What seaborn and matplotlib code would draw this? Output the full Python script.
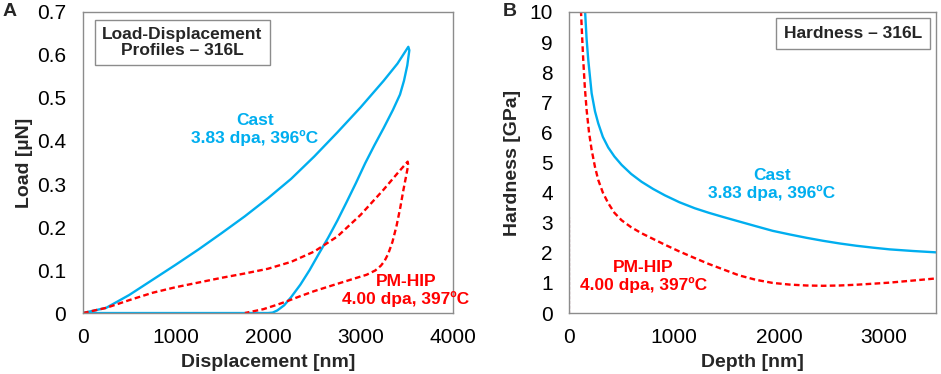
import numpy as np
import pandas as pd
import matplotlib
matplotlib.use("Agg")
import matplotlib.pyplot as plt
import seaborn as sns

# ---------------- data: panel A (load-displacement) ----------------
cast_disp = [0, 250, 500, 750, 1000, 1250, 1500, 1750, 2000, 2250, 2500, 2750, 3000, 3250, 3400, 3517,
             3528, 3506, 3470, 3427, 3350, 3250, 3150, 3050, 2950, 2850, 2750, 2650, 2550, 2450,
             2350, 2250, 2175, 2100, 2050, 2000, 1500, 1000, 500, 0]
cast_load = [0, 0.012, 0.042, 0.077, 0.112, 0.148, 0.186, 0.225, 0.267, 0.312, 0.364, 0.42, 0.478, 0.54,
             0.58, 0.619,
             0.611, 0.576, 0.54, 0.508, 0.472, 0.43, 0.39, 0.348, 0.302, 0.258, 0.215, 0.175, 0.138, 0.1,
             0.066, 0.037, 0.018, 0.006, 0.001, 0, 0, 0, 0, 0]
hip_disp = [0, 250, 500, 750, 1000, 1250, 1500, 1750, 2000, 2250, 2500, 2750, 3000, 3250, 3400, 3510,
            3516, 3490, 3462, 3430, 3390, 3345, 3300, 3260, 3220, 3160, 3066, 2900, 2706, 2500,
            2346, 2200, 2094, 1950, 1750]
hip_load = [0, 0.012, 0.03, 0.047, 0.06, 0.071, 0.082, 0.092, 0.103, 0.119, 0.143, 0.178, 0.228, 0.287,
            0.325, 0.352,
            0.344, 0.315, 0.284, 0.245, 0.203, 0.165, 0.138, 0.121, 0.11, 0.099, 0.089, 0.078, 0.065, 0.051,
            0.039, 0.027, 0.019, 0.009, 0]

# ---------------- data: panel B (hardness vs depth) ----------------
cast_depth = [150, 165, 181, 213, 245, 276, 320, 371, 430, 499, 590, 689, 800, 911, 1050, 1197,
              1330, 1467, 1620, 1784, 1940, 2102, 2260, 2419, 2580, 2737, 2900, 3054, 3280, 3500]
cast_hard = [10.05, 9.1, 8.4, 7.3, 6.7, 6.3, 5.85, 5.5, 5.2, 4.92, 4.62, 4.36, 4.12, 3.91, 3.68, 3.48,
             3.33, 3.19, 3.04, 2.88, 2.73, 2.61, 2.5, 2.4, 2.31, 2.235, 2.17, 2.115, 2.06, 2.015]
hip_depth = [111, 122, 133, 148, 165, 188, 213, 245, 276, 320, 371, 430, 499, 590, 689, 800, 911,
             1050, 1180, 1330, 1467, 1620, 1784, 1940, 2102, 2260, 2419, 2580, 2737, 2900, 3054,
             3280, 3500]
hip_hard = [10.05, 9.2, 8.4, 7.5, 6.75, 6.0, 5.42, 4.85, 4.42, 4.0, 3.65, 3.33, 3.08, 2.85, 2.65, 2.46, 2.27,
            2.045, 1.85, 1.63, 1.45, 1.25, 1.1, 1.0, 0.945, 0.915, 0.905, 0.915, 0.94, 0.975, 1.01,
            1.08, 1.15]
cast_edge_depth = [0, 0]
cast_edge_hard = [0, 10]
hip_edge_depth = [0, 0]
hip_edge_hard = [0, 3.2]

xticks_a = [0, 1000, 2000, 3000, 4000]
yticks_a = [0, 0.1, 0.2, 0.3, 0.4, 0.5, 0.6, 0.7]
xticks_b = [0, 1000, 2000, 3000]
yticks_b = list(range(0, 11))

BLUE = "#00AEEF"
RED = "#FF0000"
DASH = (0, (2.4, 1.4))

sns.set_style("white")
plt.rcParams["font.family"] = ["Liberation Sans", "DejaVu Sans"]

fig = plt.figure(figsize=(9.41, 3.74), dpi=100)
axA = fig.add_axes([0.0882, 0.163, 0.3932, 0.805])
axB = fig.add_axes([0.6050, 0.163, 0.390, 0.805])

dfA_c = pd.DataFrame({"x": cast_disp, "y": cast_load})
dfA_h = pd.DataFrame({"x": hip_disp, "y": hip_load})
sns.lineplot(data=dfA_c, x="x", y="y", sort=False, estimator=None, ax=axA,
             color=BLUE, lw=1.7)
sns.lineplot(data=dfA_h, x="x", y="y", sort=False, estimator=None, ax=axA,
             color=RED, lw=1.7, linestyle=DASH)

dfB_c = pd.DataFrame({"x": cast_depth, "y": cast_hard})
dfB_h = pd.DataFrame({"x": hip_depth, "y": hip_hard})
sns.lineplot(data=pd.DataFrame({"x": cast_edge_depth, "y": cast_edge_hard}), x="x", y="y",
             sort=False, estimator=None, ax=axB, color=BLUE, lw=1.4)
sns.lineplot(data=pd.DataFrame({"x": hip_edge_depth, "y": hip_edge_hard}), x="x", y="y",
             sort=False, estimator=None, ax=axB, color="#b07080", lw=0.9, linestyle=DASH)
sns.lineplot(data=dfB_c, x="x", y="y", sort=False, estimator=None, ax=axB,
             color=BLUE, lw=1.7)
sns.lineplot(data=dfB_h, x="x", y="y", sort=False, estimator=None, ax=axB,
             color=RED, lw=1.7, linestyle=DASH)

for ax in (axA, axB):
    for s in ax.spines.values():
        s.set_color("#8c8c8c")
        s.set_linewidth(1.0)
    ax.tick_params(axis="both", length=0, labelsize=15, colors="black")
    ax.tick_params(axis="x", pad=11)
    ax.tick_params(axis="y", pad=12)

axA.set_xlim(0, 4000)
axA.set_ylim(0, 0.7)
axA.set_xticks(xticks_a)
axA.set_yticks(yticks_a)
axA.set_yticklabels([f"{v:g}" for v in yticks_a])
axA.set_xlabel("Displacement [nm]", fontsize=14, fontweight="bold", labelpad=5)
axA.set_ylabel("Load [µN]", fontsize=14, fontweight="bold", labelpad=3)

axB.set_xlim(0, 3500)
axB.set_ylim(0, 10)
axB.set_xticks(xticks_b)
axB.set_yticks(yticks_b)
axB.set_xlabel("Depth [nm]", fontsize=14, fontweight="bold", labelpad=5)
axB.set_ylabel("Hardness [GPa]", fontsize=14, fontweight="bold", labelpad=6)

axA.text(1075, 0.629, "Load-Displacement\nProfiles – 316L", ha="center", va="center",
         fontsize=12.5, fontweight="bold", linespacing=1.15,
         bbox=dict(boxstyle="square,pad=0.4", fc="white", ec="#8c8c8c", lw=1.0))
axB.text(2707, 9.29, "Hardness – 316L", ha="center", va="center",
         fontsize=12.5, fontweight="bold",
         bbox=dict(boxstyle="square,pad=0.45", fc="white", ec="#8c8c8c", lw=1.0))

axA.text(1859, 0.426, "Cast\n3.83 dpa, 396ºC", ha="center", va="center", color=BLUE,
         fontsize=12.5, fontweight="bold", linespacing=1.15)
axA.text(3492, 0.053, "PM-HIP\n4.00 dpa, 397ºC", ha="center", va="center", color=RED,
         fontsize=12.5, fontweight="bold", linespacing=1.15, clip_on=False)
axB.text(1933, 4.28, "Cast\n3.83 dpa, 396ºC", ha="center", va="center", color=BLUE,
         fontsize=12.5, fontweight="bold", linespacing=1.15)
axB.text(705, 1.21, "PM-HIP\n4.00 dpa, 397ºC", ha="center", va="center", color=RED,
         fontsize=12.5, fontweight="bold", linespacing=1.15)

fig.text(10 / 941, 1 - 12 / 374, "A", ha="center", va="center", fontsize=14, fontweight="bold")
fig.text(510 / 941, 1 - 12 / 374, "B", ha="center", va="center", fontsize=14, fontweight="bold")

fig.savefig("out.png", dpi=100, facecolor="white")
